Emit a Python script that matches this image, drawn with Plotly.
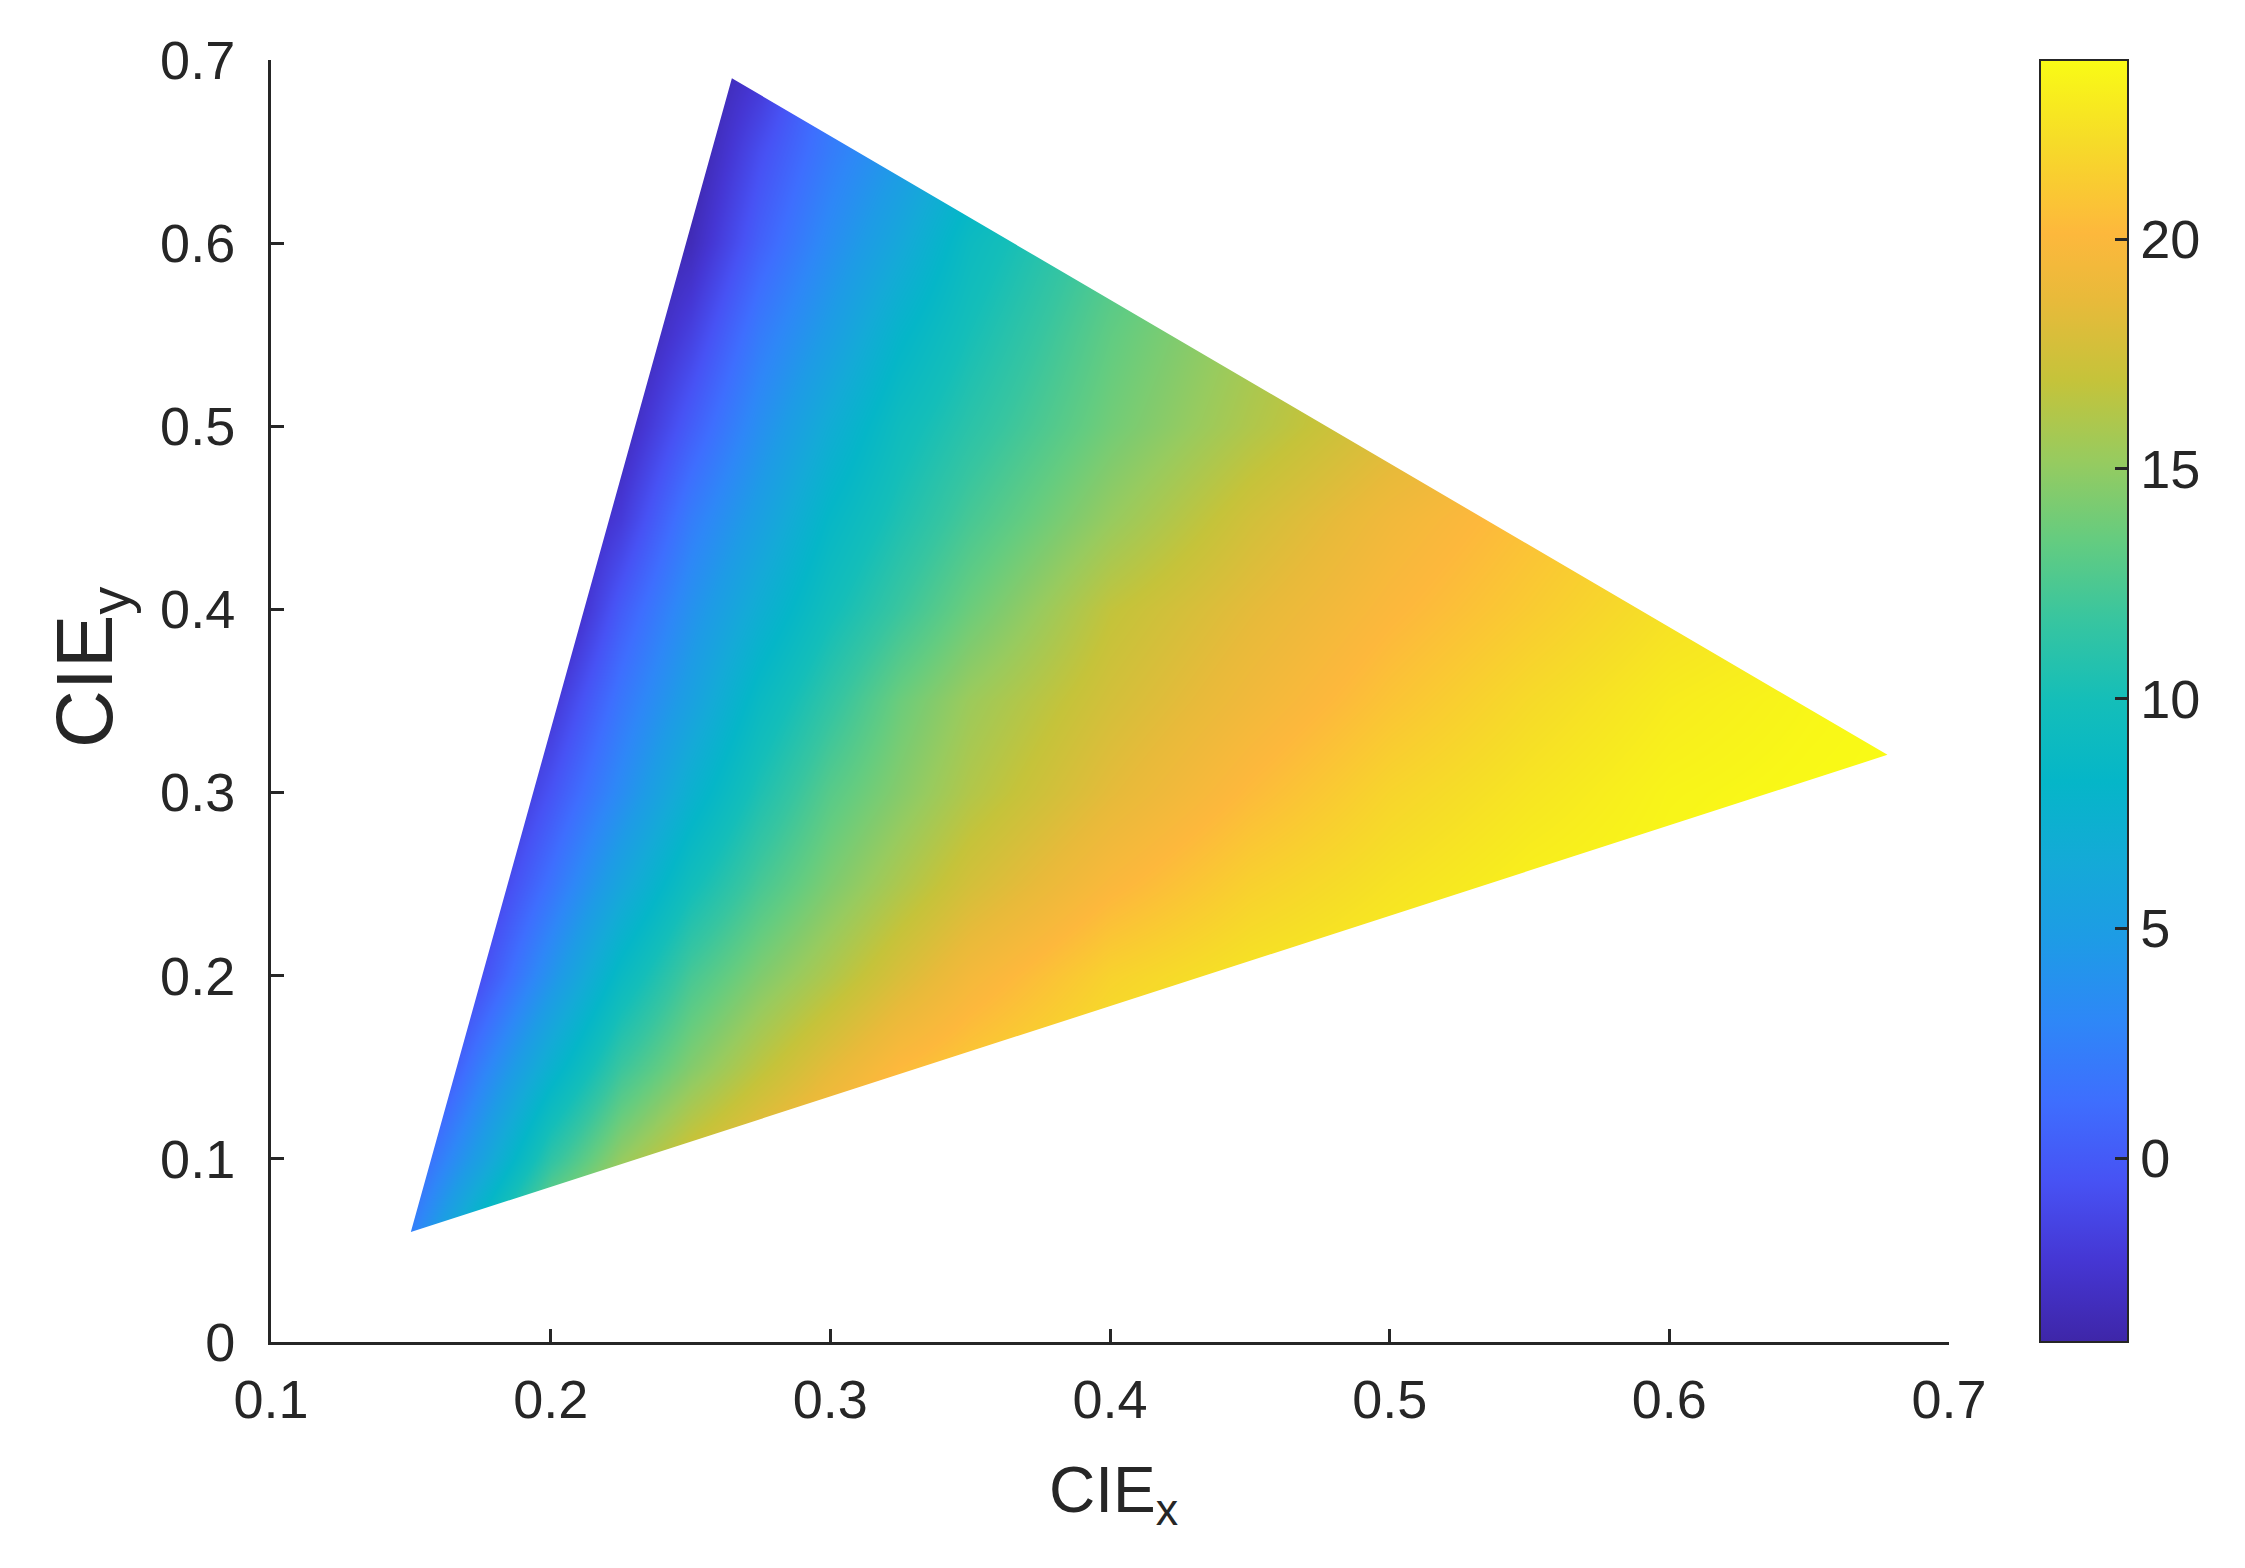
import plotly.graph_objects as go

# ---------------- data ----------------
# triangle vertices (CIE x, CIE y): bottom-left, top, right
tri_x = [0.15, 0.2648, 0.678]
tri_y = [0.06, 0.69, 0.3206]

# coarse grid of the colour value (read/estimated from the picture)
x_nodes = [0.10, 0.15, 0.175, 0.20, 0.225, 0.25, 0.275, 0.30, 0.325, 0.35,
           0.40, 0.45, 0.50, 0.55, 0.60, 0.65, 0.70]
y_nodes = [0.05, 0.10, 0.15, 0.20, 0.25, 0.30, 0.35, 0.40, 0.45, 0.50,
           0.55, 0.60, 0.65, 0.70]

z_y005 = [-3.0, 3.0, 10.0, 16.1, 18.5, 20.3, 21.6, 22.3, 22.8, 23.1, 23.5, 23.8, 24.0, 24.0, 24.0, 24.0, 24.0]
z_y010 = [-2.0, 0.2, 5.4, 11.3, 15.1, 17.6, 19.3, 20.7, 21.9, 22.3, 23.0, 23.5, 23.8, 24.0, 24.0, 24.0, 24.0]
z_y015 = [-4.0, -3.1, 2.4, 7.4, 11.8, 14.5, 16.6, 18.5, 20.2, 21.1, 22.5, 23.2, 23.6, 23.8, 24.0, 24.0, 24.0]
z_y020 = [-4.5, -4.5, -0.7, 4.1, 8.85, 12.3, 14.4, 16.1, 17.9, 19.5, 21.6, 22.6, 23.2, 23.6, 23.9, 24.0, 24.0]
z_y025 = [-4.5, -4.0, -2.4, 1.6, 5.9, 9.7, 12.3, 14.3, 16.0, 17.6, 19.9, 21.5, 22.5, 23.3, 23.7, 24.0, 24.0]
z_y030 = [-4.5, -4.5, -4.0, -0.4, 3.45, 7.4, 10.5, 12.95, 14.6, 16.2, 18.5, 20.3, 21.75, 22.7, 23.5, 23.8, 24.0]
z_y035 = [-4.5, -4.5, -4.5, -2.3, 1.85, 5.4, 8.9, 11.4, 13.7, 15.4, 17.6, 19.3, 20.8, 22.05, 23.05, 23.6, 24.0]
z_y040 = [-4.5, -4.5, -4.5, -4.5, 0.1, 3.9, 7.0, 9.75, 11.8, 13.7, 16.8, 18.5, 20.0, 21.2, 22.4, 23.0, 23.8]
z_y045 = [-4.5, -4.5, -4.5, -4.5, -2.0, 2.25, 5.3, 8.4, 10.5, 12.3, 15.15, 17.5, 19.3, 20.6, 21.8, 22.7, 23.4]
z_y050 = [-4.5, -4.5, -4.5, -4.5, -3.5, 0.2, 3.7, 6.8, 9.45, 11.1, 13.9, 16.1, 18.0, 19.6, 20.8, 21.9, 22.8]
z_y055 = [-4.5, -4.5, -4.5, -4.5, -4.5, -1.56, 2.2, 5.05, 8.0, 10.1, 13.3, 15.6, 17.6, 19.3, 20.7, 21.8, 22.7]
z_y060 = [-4.5, -4.5, -4.5, -4.5, -4.5, -3.3, 0.45, 3.5, 6.2, 9.1, 12.5, 15.0, 17.0, 18.8, 20.3, 21.4, 22.3]
z_y065 = [-4.5, -4.5, -4.5, -4.5, -4.5, -4.2, -0.75, 2.2, 4.6, 7.4, 11.5, 14.0, 16.2, 18.0, 19.6, 20.8, 21.8]
z_y070 = [-4.5, -4.5, -4.5, -4.5, -4.5, -4.5, -2.5, 1.5, 3.5, 5.5, 9.5, 12.5, 15.0, 17.0, 18.7, 20.0, 21.0]

z_rows = [z_y005, z_y010, z_y015, z_y020, z_y025, z_y030, z_y035,
          z_y040, z_y045, z_y050, z_y055, z_y060, z_y065, z_y070]

x_range = [0.1, 0.7]
y_range = [0.0, 0.7]
x_ticks = [0.1, 0.2, 0.3, 0.4, 0.5, 0.6, 0.7]
y_ticks = [0, 0.1, 0.2, 0.3, 0.4, 0.5, 0.6, 0.7]
cbar_min, cbar_max = -4.0, 23.9
cbar_ticks = [0, 5, 10, 15, 20]
x_title = 'CIE<sub>x</sub>'
y_title = 'CIE<sub>y</sub>'

# parula-like colormap
parula = [
    [0.0, 'rgb(62,38,168)'],
    [0.0625, 'rgb(69,54,211)'],
    [0.125, 'rgb(71,82,244)'],
    [0.1875, 'rgb(62,110,254)'],
    [0.25, 'rgb(46,135,247)'],
    [0.3125, 'rgb(30,155,230)'],
    [0.375, 'rgb(20,170,215)'],
    [0.4375, 'rgb(5,182,200)'],
    [0.5, 'rgb(20,190,185)'],
    [0.5625, 'rgb(55,197,160)'],
    [0.625, 'rgb(100,204,128)'],
    [0.6875, 'rgb(151,203,95)'],
    [0.75, 'rgb(197,195,58)'],
    [0.8125, 'rgb(232,186,58)'],
    [0.865, 'rgb(253,184,60)'],
    [0.9375, 'rgb(246,220,40)'],
    [1.0, 'rgb(249,251,21)'],
]

INK = 'rgb(38,38,38)'
FONT = 'Liberation Sans, Arial, Helvetica, sans-serif'

W, H = 2245, 1568
ML, MR, MT, MB = 271, 296, 60, 226
plot_w = W - ML - MR
plot_h = H - MT - MB

fig = go.Figure()

fig.add_trace(go.Heatmap(
    x=x_nodes, y=y_nodes, z=z_rows, zsmooth='best',
    colorscale=parula, zmin=cbar_min, zmax=cbar_max,
    hoverinfo='skip',
    colorbar=dict(
        x=(2040 - ML) / plot_w, xanchor='left', xpad=0,
        y=0.5, yanchor='middle', len=1.0, lenmode='fraction', ypad=0,
        thickness=88, thicknessmode='pixels',
        tickvals=cbar_ticks, ticks='inside', ticklen=14, tickwidth=3,
        tickcolor=INK, outlinewidth=2, outlinecolor=INK,
        tickprefix='\u00a0\u2009',
        tickfont=dict(family=FONT, size=54, color=INK),
    ),
))

# white mask outside the triangle (rectangle with triangular hole)
pad = 0.05
ax0, ax1 = x_range[0] - pad, x_range[1] + pad
ay0, ay1 = y_range[0] - pad, y_range[1] + pad
mask_x = [ax0, ax0, ax1, ax1, ax0, tri_x[0], tri_x[2], tri_x[1], tri_x[0], ax0]
mask_y = [ay0, ay1, ay1, ay0, ay0, tri_y[0], tri_y[2], tri_y[1], tri_y[0], ay0]
fig.add_trace(go.Scatter(
    x=mask_x, y=mask_y, mode='lines', fill='toself',
    fillcolor='white', line=dict(width=0, color='white'),
    hoverinfo='skip', showlegend=False,
))

axis_common = dict(
    showgrid=False, zeroline=False, showline=True, linewidth=3,
    linecolor=INK, ticks='inside', ticklen=13, tickwidth=3, tickcolor=INK,
    tickfont=dict(family=FONT, size=54, color=INK), mirror=False,
)

fig.update_layout(
    width=W, height=H,
    margin=dict(l=ML, r=MR, t=MT, b=MB, pad=0),
    paper_bgcolor='white', plot_bgcolor='white',
    showlegend=False,
    xaxis=dict(range=x_range, tickvals=x_ticks, ticklabelstandoff=8, **axis_common),
    yaxis=dict(range=y_range, tickvals=y_ticks, ticklabelstandoff=22, **axis_common),
    annotations=[
        dict(text=x_title, xref='paper', yref='paper',
             x=(1113 - ML) / plot_w, y=(H - MB - 1494) / plot_h,
             xanchor='center', yanchor='middle', showarrow=False,
             font=dict(family=FONT, size=64, color=INK)),
        dict(text=y_title, xref='paper', yref='paper', textangle=-90,
             x=(90 - ML) / plot_w, y=(H - MB - 668) / plot_h,
             xanchor='center', yanchor='middle', showarrow=False,
             font=dict(family=FONT, size=80, color=INK)),
    ],
)

fig.write_html("out.html", config={'displayModeBar': False},
               post_script="document.body.style.margin='0';")
